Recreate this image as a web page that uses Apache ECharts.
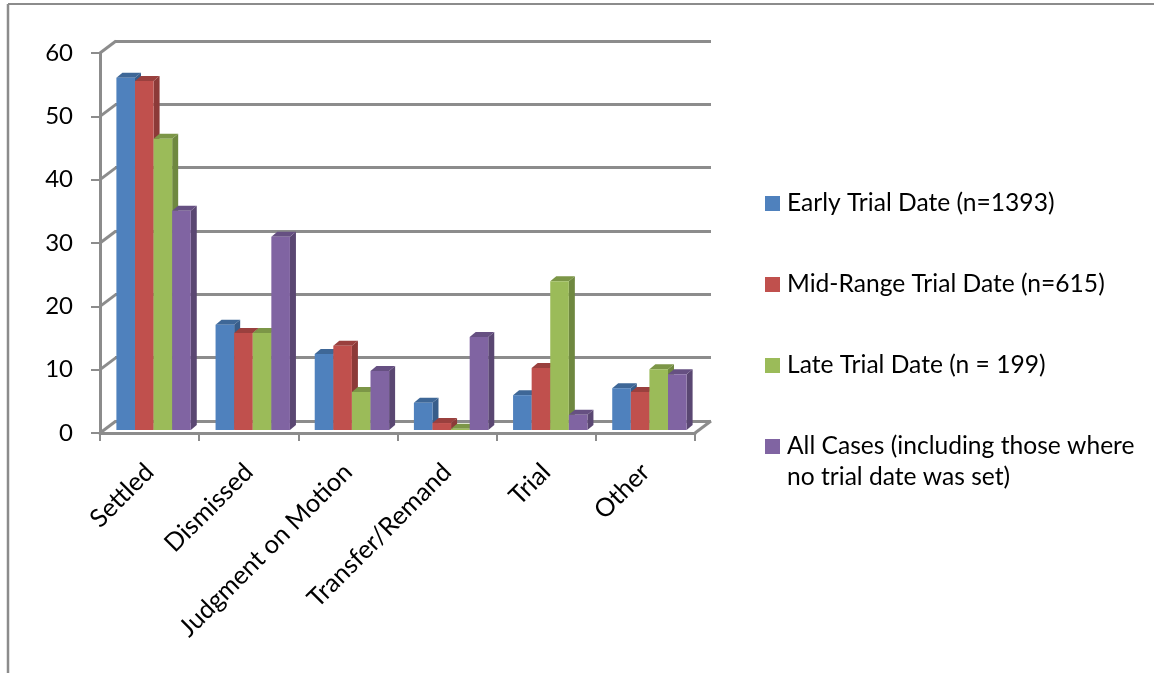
<!DOCTYPE html>
<html>
<head>
<meta charset="utf-8">
<style>html,body{margin:0;padding:0;background:#fff}#chart{width:1154px;height:673px}</style>
<script src="https://cdn.jsdelivr.net/npm/echarts@6/dist/echarts.min.js"></script>
</head>
<body>
<div id="chart"></div>
<script>
// Case outcomes by trial-date group, drawn as extruded columns on a 3D-style frame.
const categories = ['Settled', 'Dismissed', 'Judgment on Motion', 'Transfer/Remand', 'Trial', 'Other'];
const seriesNames = [
  'Early Trial Date (n=1393)',
  'Mid-Range Trial Date (n=615)',
  'Late Trial Date (n = 199)',
  'All Cases (including those where\nno trial date was set)'
];
const earlyTrial = [55.6, 16.6, 12.0, 4.3, 5.5, 6.6];
const midRangeTrial = [55.1, 15.3, 13.3, 1.1, 9.8, 6.0];
const lateTrial = [46.0, 15.3, 6.0, 0.2, 23.5, 9.6];
const allCases = [34.6, 30.5, 9.3, 14.7, 2.4, 8.8];
const yTicks = [0, 10, 20, 30, 40, 50, 60];

const frontColors = ['#4F81BD', '#C0504D', '#9BBB59', '#8064A2'];
const topColors = ['#3E6797', '#9A403E', '#7C9647', '#665082'];
const sideColors = ['#385D8A', '#8C3A38', '#6F8840', '#5A4772'];

const GRAY = '#8C8C8C';
const FONT = 'Lato';
const WALL = [16, -12];   // offset from the front plane to the back wall
const FLOOR = [4, -3];    // columns stand slightly behind the front edge
const DEPTH = [6, -5];    // extrusion of each column
const BAR_SHARE = 0.1875; // column width as a share of the category band

function columnRenderer(index) {
  return function (params, api) {
    const base = api.coord([api.value(0), 0]);
    const top = api.coord([api.value(0), api.value(1)]);
    const w = api.size([1, 0])[0] * BAR_SHARE;
    const x0 = base[0] + FLOOR[0] - 2 * w + index * w;
    const x1 = x0 + w;
    const yb = base[1] + FLOOR[1];
    const yt = top[1] + FLOOR[1];
    const dx = DEPTH[0], dy = DEPTH[1];
    const poly = (points, fill) => ({ type: 'polygon', shape: { points }, style: { fill, stroke: null } });
    return {
      type: 'group',
      children: [
        poly([[x1, yb], [x1 + dx, yb + dy], [x1 + dx, yt + dy], [x1, yt]], sideColors[index]),
        poly([[x0, yt], [x0 + dx, yt + dy], [x1 + dx, yt + dy], [x1, yt]], topColors[index]),
        poly([[x0, yb], [x1, yb], [x1, yt], [x0, yt]], frontColors[index])
      ]
    };
  };
}

// Slanted connectors from the front axis ticks to the back wall.
function wallConnector(params, api) {
  const p = api.coord([0, api.value(0)]);
  const x = p[0] - api.size([1, 0])[0] / 2;
  return {
    type: 'line',
    shape: { x1: x, y1: p[1], x2: x + WALL[0], y2: p[1] + WALL[1] },
    style: { stroke: GRAY, lineWidth: 3 }
  };
}

// Slanted floor edge at the right end of the axis.
function floorEdge(params, api) {
  const p = api.coord([api.value(0), 0]);
  const x = p[0] + api.size([1, 0])[0] / 2;
  return {
    type: 'line',
    shape: { x1: x, y1: p[1], x2: x + WALL[0], y2: p[1] + WALL[1] },
    style: { stroke: GRAY, lineWidth: 3 }
  };
}

const columnData = [earlyTrial, midRangeTrial, lateTrial, allCases];
const columnSeries = seriesNames.map((name, i) => ({
  type: 'custom',
  name,
  xAxisIndex: 0,
  yAxisIndex: 0,
  z: 5 + i,
  encode: { x: 0, y: 1 },
  itemStyle: { color: frontColors[i] },
  data: columnData[i].map((v, c) => [c, v]),
  renderItem: columnRenderer(i)
}));

const chart = echarts.init(document.getElementById('chart'), null, { renderer: 'canvas' });
chart.setOption({
  animation: false,
  backgroundColor: '#fff',
  textStyle: { fontFamily: FONT },
  grid: [
    { left: 100, top: 53, width: 595, height: 380 },
    { left: 115, top: 41, width: 596, height: 380 }
  ],
  xAxis: [
    {
      type: 'category', gridIndex: 0, data: categories,
      axisLine: { onZero: false, lineStyle: { color: GRAY, width: 3 } },
      axisTick: { show: true, length: 8, lineStyle: { color: GRAY, width: 2 } },
      axisLabel: { rotate: 45, interval: 0, fontSize: 25.4, fontFamily: FONT, color: '#000', margin: 35 }
    },
    {
      type: 'category', gridIndex: 1, data: categories,
      axisLine: { show: false }, axisTick: { show: false }, axisLabel: { show: false }
    }
  ],
  yAxis: [
    {
      type: 'value', gridIndex: 0, min: 0, max: 60, interval: 10,
      splitLine: { show: false },
      axisLine: { show: true, lineStyle: { color: GRAY, width: 3 } },
      axisTick: { show: true, length: 9, lineStyle: { color: GRAY, width: 2 } },
      axisLabel: { fontSize: 24, fontFamily: FONT, color: '#000', margin: 27 }
    },
    {
      type: 'value', gridIndex: 1, min: 0, max: 60, interval: 10,
      axisLine: { show: false }, axisTick: { show: false }, axisLabel: { show: false },
      splitLine: { show: true, lineStyle: { color: GRAY, width: 3 } }
    }
  ],
  legend: {
    orient: 'vertical',
    left: 765,
    top: 191,
    padding: 0,
    icon: 'rect',
    itemWidth: 15,
    itemHeight: 15,
    itemGap: 56,
    data: seriesNames,
    formatter: name => name.split('\n')[0],
    textStyle: { fontSize: 24.6, fontFamily: FONT, color: '#000', padding: [0, 0, 0, 2] }
  },
  series: [
    {
      type: 'custom', name: 'wall connectors', xAxisIndex: 0, yAxisIndex: 0, z: 2,
      encode: { y: 0 }, data: yTicks.map(v => [v]), renderItem: wallConnector, silent: true
    },
    {
      type: 'custom', name: 'floor edge', xAxisIndex: 0, yAxisIndex: 0, z: 2,
      encode: { x: 0 }, data: [[categories.length - 1]], renderItem: floorEdge, silent: true
    }
  ].concat(columnSeries),
  graphic: [
    { type: 'line', shape: { x1: 8, y1: 4, x2: 1154, y2: 4 }, style: { stroke: GRAY, lineWidth: 2 }, z: 20 },
    { type: 'line', shape: { x1: 8, y1: 4, x2: 8, y2: 673 }, style: { stroke: GRAY, lineWidth: 2.5 }, z: 20 },
    {
      type: 'text', left: 787, top: 465, z: 20,
      style: { text: seriesNames[3].split('\n')[1], font: '24.6px ' + FONT, fill: '#000' }
    }
  ]
});
</script>
</body>
</html>
